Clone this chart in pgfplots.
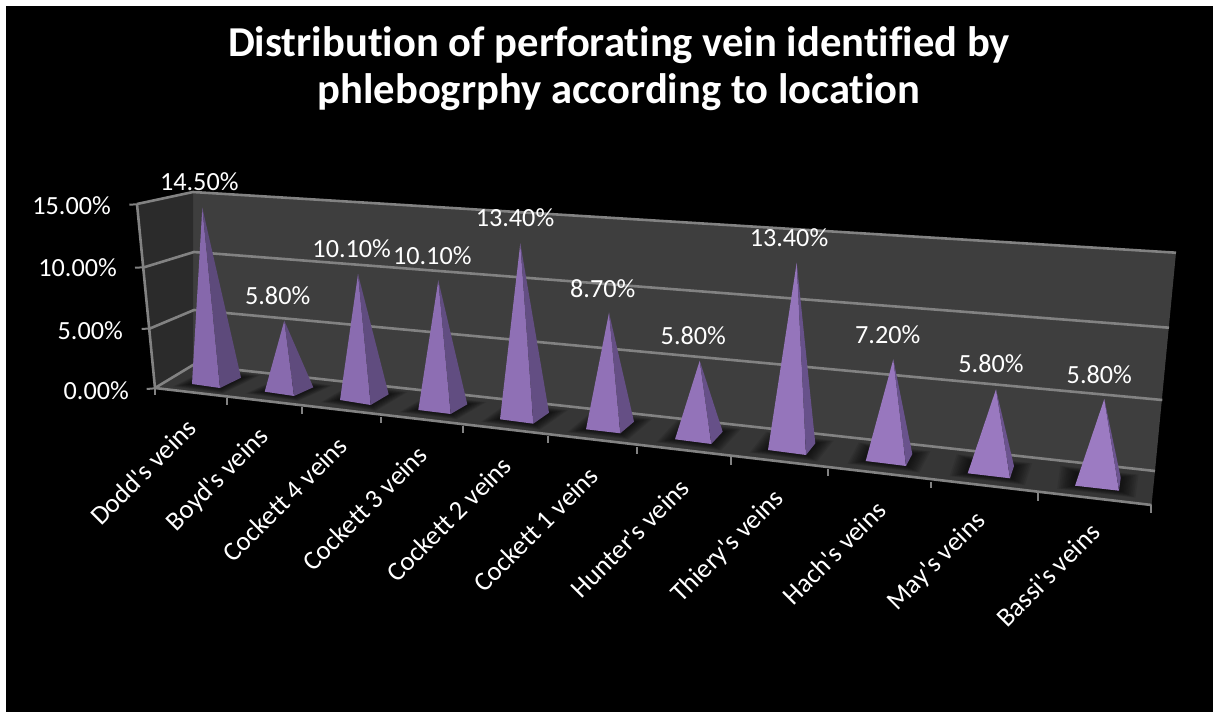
\documentclass[border=0pt]{standalone}
\usepackage{fontspec}
\usepackage{pgfplots}
\usepackage{pgfplotstable}
\pgfplotsset{compat=1.18}
\newfontfamily\cf{Carlito}[Ligatures=NoCommon]
\definecolor{pa}{HTML}{9C7BC2}
\definecolor{pb}{HTML}{8668AC}
\definecolor{qa}{HTML}{6C5490}
\definecolor{qb}{HTML}{5D4A7B}
\definecolor{gridc}{HTML}{828282}
% value labels: centre of label (px), value in percent
\pgfplotstableread{
lx ly v
199.3 181.7 14.5
277.7 295.7 5.8
351.7 248.7 10.1
432.3 255.7 10.1
515.0 217.3 13.4
602.7 288.7 8.7
693.3 335.7 5.8
789.0 237.7 13.4
887.7 334.3 7.2
991.0 364.0 5.8
1099.3 374.7 5.8
}\valtab
\pgfplotstableread{
lx ly lab
143 472 {Dodd's veins}
218 480 {Boyd's veins}
285 499 {Cockett 4 veins}
365 508 {Cockett 3 veins}
449 519 {Cockett 2 veins}
536 529 {Cockett 1 veins}
630 538 {Hunter's veins}
728 547 {Thiery's veins}
834 553 {Hach's veins}
937 562 {May's veins}
1048 575 {Bassi's veins}
}\cattab
\pgfplotstableread{
lx ly lab
111 205.5 {15.00\%}
117 267.5 {10.00\%}
123 330.5 {5.00\%}
129 391 {0.00\%}
}\ticktab
% apex, left, front, right base corners; t = colour mix
\newcommand\pyr[9]{%
  \addplot[fill=pa!#9!pb,draw=none] coordinates {(#1,#2)(#3,#4)(#5,#6)} --cycle;
  \addplot[fill=qa!#9!qb,draw=none] coordinates {(#1,#2)(#5,#6)(#7,#8)} --cycle;
}
% soft floor shadow around a base
\newcommand\shad[7]{% Lx Ly Fx Fy Rx Ry scale
  \pgfmathsetmacro\cx{(#1+#5)/2}\pgfmathsetmacro\cy{(#2+#6)/2}%
  \pgfmathsetmacro\ax{\cx+#7*(#1-\cx)}\pgfmathsetmacro\ay{\cy+#7*(#2-\cy)}%
  \pgfmathsetmacro\bx{\cx+#7*(#3-\cx)}\pgfmathsetmacro\by{\cy+#7*(#4-\cy)}%
  \pgfmathsetmacro\ccx{\cx+#7*(#5-\cx)}\pgfmathsetmacro\ccy{\cy+#7*(#6-\cy)}%
  \pgfmathsetmacro\dx{2*\cx-\bx}\pgfmathsetmacro\dy{2*\cy-\by}%
  \edef\temp{\noexpand\addplot[fill=black,fill opacity=0.085,draw=none] coordinates {(\ax,\ay)(\bx,\by)(\ccx,\ccy)(\dx,\dy)} --cycle;}\temp
}
\newcommand\shads[6]{\shad{#1}{#2}{#3}{#4}{#5}{#6}{1.06}\shad{#1}{#2}{#3}{#4}{#5}{#6}{1.14}\shad{#1}{#2}{#3}{#4}{#5}{#6}{1.22}\shad{#1}{#2}{#3}{#4}{#5}{#6}{1.30}\shad{#1}{#2}{#3}{#4}{#5}{#6}{1.38}\shad{#1}{#2}{#3}{#4}{#5}{#6}{1.46}\shad{#1}{#2}{#3}{#4}{#5}{#6}{1.54}\shad{#1}{#2}{#3}{#4}{#5}{#6}{1.62}\shad{#1}{#2}{#3}{#4}{#5}{#6}{1.70}\shad{#1}{#2}{#3}{#4}{#5}{#6}{1.78}}
\begin{document}
\begin{tikzpicture}
\begin{axis}[
  width=1213pt,height=712pt,scale only axis,hide axis,
  xmin=0,xmax=1213,ymin=0,ymax=712,y dir=reverse,clip=true,
  /pgf/number format/assume math mode=true,
  line join=round]
% page
\addplot[fill=white,draw=none] coordinates {(0,0)(1213,0)(1213,712)(0,712)} --cycle;
\addplot[fill=black,draw=none] coordinates {(6,6)(1213,6)(1213,712)(6,712)} --cycle;
% floor
\addplot[fill=black!79,draw=none] coordinates {(155,388)(1151.5,505)(1155,471)(193,365)} --cycle;
\shads{192}{384}{220}{388}{241}{377.7}
\shads{264.7}{391.7}{294}{396}{313.3}{387.3}
\shads{340}{400}{370.7}{405}{388.7}{394.3}
\shads{418.3}{410}{450.7}{414}{467.3}{404.3}
\shads{500}{419.3}{533.3}{423.7}{549}{412.7}
\shads{586}{429.3}{620.3}{433.3}{634}{421.7}
\shads{675}{439.3}{711.3}{444}{722.7}{431.7}
\shads{768}{450}{806}{455}{815.3}{443.3}
\shads{865.7}{461}{906}{466}{912.3}{454}
\shads{967.7}{473.3}{1010}{478.3}{1014}{466}
\shads{1075}{485.7}{1119}{490.7}{1120.7}{477.7}
% black page again below the front edge, so the shadows stay on the floor
\addplot[fill=black,draw=none] coordinates {(155,388)(1151.5,505)(1213,512)(1213,712)(6,712)(6,388)} --cycle;
% walls
\addplot[fill=black!75.5,draw=none] coordinates {(193,192)(1176,252.7)(1155,471)(193,365)} --cycle;
\addplot[fill=black!83,draw=none] coordinates {(137,204)(193,192)(193,365)(155,388)} --cycle;
% gridlines
\addplot[gridc,line width=2.6pt] coordinates {(137,204)(193,192)(1176,252.7)};
\addplot[gridc,line width=2.6pt] coordinates {(144,267.3)(194,252)(1169,327.7)};
\addplot[gridc,line width=2.6pt] coordinates {(148.7,329)(194,310)(1162.3,400)};
\addplot[gridc,line width=2.6pt] coordinates {(155,388)(193,365)(1155,471)};
% axes and ticks
\addplot[gridc,line width=2.6pt] coordinates {(137,204)(155,388)};
\addplot[gridc,line width=2.6pt] coordinates {(155,388)(1151.5,505)};
\addplot[gridc,line width=2pt] coordinates {(129.3,204.7)(137,204.3)};
\addplot[gridc,line width=2pt] coordinates {(135,267.7)(144,267.3)};
\addplot[gridc,line width=2pt] coordinates {(141.7,329)(149,328.5)};
\addplot[gridc,line width=2pt] coordinates {(146.7,389)(155,388.3)};
\addplot[gridc,line width=2pt] coordinates {(155,388)(155,395)};
\addplot[gridc,line width=2pt] coordinates {(227,398.3)(227,405)};
\addplot[gridc,line width=2pt] coordinates {(302.3,407.3)(302.3,414)};
\addplot[gridc,line width=2pt] coordinates {(381,416.7)(381,423.3)};
\addplot[gridc,line width=2pt] coordinates {(463,426)(463,433)};
\addplot[gridc,line width=2pt] coordinates {(548.3,436)(548.3,443)};
\addplot[gridc,line width=2pt] coordinates {(637.3,446.7)(637.3,454)};
\addplot[gridc,line width=2pt] coordinates {(730.7,457.3)(730.7,465)};
\addplot[gridc,line width=2pt] coordinates {(828.3,469)(828.3,476)};
\addplot[gridc,line width=2pt] coordinates {(930.7,481.7)(930.7,488)};
\addplot[gridc,line width=2pt] coordinates {(1038.3,493.3)(1038.3,500.7)};
\addplot[gridc,line width=2pt] coordinates {(1151,505)(1151,513)};
% pyramids
\pyr{202.3}{207.7}{192}{384}{220}{388}{241}{377.7}{0}
\pyr{284.3}{320.7}{264.7}{391.7}{294}{396}{313.3}{387.3}{10}
\pyr{358}{274}{340}{400}{370.7}{405}{388.7}{394.3}{20}
\pyr{438.3}{280.3}{418.3}{410}{450.7}{414}{467.3}{404.3}{30}
\pyr{520.3}{243.3}{500}{419.3}{533.3}{423.7}{549}{412.7}{40}
\pyr{609}{312.7}{586}{429.3}{620.3}{433.3}{634}{421.7}{50}
\pyr{699.7}{360.7}{675}{439.3}{711.3}{444}{722.7}{431.7}{60}
\pyr{796.7}{262.7}{768}{450}{806}{455}{815.3}{443.3}{70}
\pyr{893.3}{359.3}{865.7}{461}{906}{466}{912.3}{454}{80}
\pyr{996}{389.3}{967.7}{473.3}{1010}{478.3}{1014}{466}{90}
\pyr{1104.3}{399}{1075}{485.7}{1119}{490.7}{1120.7}{477.7}{100}
% value labels
\addplot[draw=none,mark=none,point meta=explicit,
  nodes near coords={\pgfmathprintnumber[fixed,fixed zerofill,precision=2,assume math mode=true]{\pgfplotspointmeta}\%},
  nodes near coords style={anchor=center,inner sep=0pt,text=white,font=\cf\fontsize{26.2}{30}\selectfont}]
  table[x=lx,y=ly,meta=v] {\valtab};
% category labels
\addplot[draw=none,mark=none,point meta=explicit symbolic,
  nodes near coords style={anchor=center,inner sep=0pt,text=white,rotate=45,font=\cf\fontsize{26.8}{30}\selectfont},
  nodes near coords]
  table[x=lx,y=ly,meta=lab] {\cattab};
% axis numbers
\addplot[draw=none,mark=none,point meta=explicit symbolic,
  nodes near coords style={anchor=east,inner sep=0pt,text=white,font=\cf\fontsize{26.2}{30}\selectfont},
  nodes near coords]
  table[x=lx,y=ly,meta=lab] {\ticktab};
% title
\node[text=white,align=center,inner sep=0pt,font=\cf\bfseries\fontsize{42.6}{47}\selectfont]
  at (axis cs:619,69) {Distribution of perforating vein identified by\\phlebogrphy according to location};
\end{axis}
\end{tikzpicture}
\end{document}
